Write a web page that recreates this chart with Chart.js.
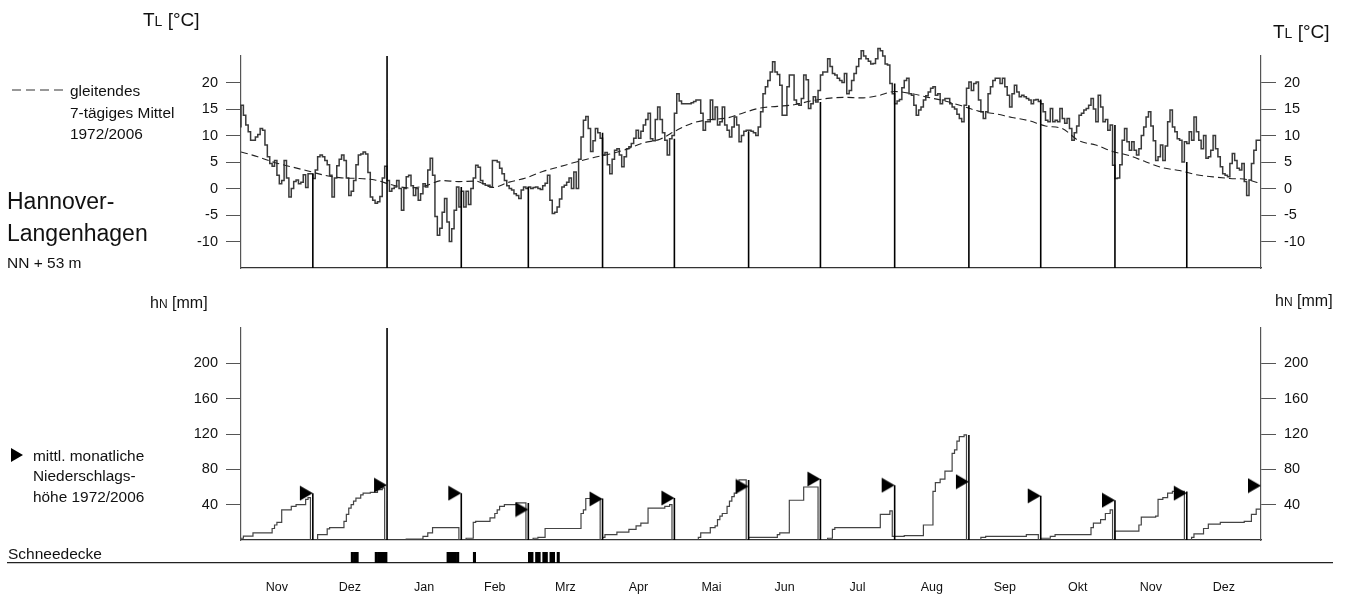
<!DOCTYPE html>
<html>
<head>
<meta charset="utf-8">
<script src="https://cdn.jsdelivr.net/npm/chart.js@4.4.1/dist/chart.umd.min.js"></script>
<style>
  body { margin: 0; background: #fff; }
  #wrap { position: relative; width: 1345px; height: 595px; overflow: hidden;
          font-family: "Liberation Sans", Arial, sans-serif; color: #111; }
  #wrap canvas { position: absolute; left: 0; }
  .lbl { position: absolute; white-space: nowrap; line-height: 1; }
  .small { font-size: 15.4px; }
  .flag { position: absolute; width: 0; height: 0; border-left: 12px solid #000;
          border-top: 7px solid transparent; border-bottom: 7px solid transparent; }
</style>
</head>
<body>
<div id="wrap">
  <canvas id="tempChart" width="1345" height="300" style="top:0"></canvas>
  <canvas id="rainChart" width="1345" height="290" style="top:280px"></canvas>
  <canvas id="snowChart" width="1345" height="55" style="top:540px"></canvas>
  <canvas id="dashKey" width="60" height="10" style="left:10px;top:85px"></canvas>

  <div class="lbl" style="left:143px;top:10px;font-size:19px">T<span style="font-size:14px">L</span> [°C]</div>
  <div class="lbl" style="left:1273px;top:22px;font-size:19px">T<span style="font-size:14px">L</span> [°C]</div>
  <div class="lbl small" style="left:70px;top:82.5px">gleitendes</div>
  <div class="lbl small" style="left:70px;top:104.5px">7-tägiges Mittel</div>
  <div class="lbl small" style="left:70px;top:125.5px">1972/2006</div>
  <div class="lbl" style="left:7px;top:190px;font-size:23px">Hannover-</div>
  <div class="lbl" style="left:7px;top:221.7px;font-size:23px">Langenhagen</div>
  <div class="lbl" style="left:7px;top:255px;font-size:15.5px">NN + 53 m</div>
  <div class="lbl" style="left:150px;top:295px;font-size:16px">h<span style="font-size:12px">N</span> [mm]</div>
  <div class="lbl" style="left:1275px;top:293px;font-size:16px">h<span style="font-size:12px">N</span> [mm]</div>
  <div class="flag" style="left:11px;top:448px"></div>
  <div class="lbl small" style="left:33px;top:447.5px">mittl. monatliche</div>
  <div class="lbl small" style="left:33px;top:468px">Niederschlags-</div>
  <div class="lbl small" style="left:33px;top:488.5px">höhe 1972/2006</div>
  <div class="lbl" style="left:8px;top:545.7px;font-size:15.5px">Schneedecke</div>
</div>

<script>
// months shown: Nov .. Dez of the following year
const monthNames = ["Nov", "Dez", "Jan", "Feb", "Mrz", "Apr", "Mai", "Jun", "Jul", "Aug", "Sep", "Okt", "Nov", "Dez"];
const monthDays = [30, 31, 31, 28, 31, 30, 31, 30, 31, 31, 30, 31, 30, 31];

// daily air temperature T_L [°C]
const tempDaily = [
  11.5, 15.7, 13.8, 12.0, 10.7, 9.1, 9.1, 9.7, 10.2, 11.3, 11.0, 8.2, 6.0, 4.7, 4.2, 5.3, 2.5, 0.9, 1.5, 5.3, 2.0, -1.6, 0.0, 1.3, 1.6, 0.9, 1.2, 2.6, 0.2, 2.8, // Nov
  2.8, 1.9, 3.5, 6.0, 6.3, 6.0, 5.3, 4.5, 2.5, -1.6, 2.0, 4.3, 5.5, 6.3, 5.3, 2.0, -1.3, -0.5, 1.5, 4.5, 6.3, 6.5, 6.9, 6.5, 3.0, -1.6, -2.2, -2.8, -2.5, -1.5, 2.0, // Dez
  4.2, 1.5, -0.5, 0.0, 0.3, 1.5, 0.0, -4.1, 0.0, 2.2, 2.5, 0.5, -1.3, 0.0, -2.2, -1.0, 0.9, 0.3, 3.5, 5.7, 2.5, -5.3, -8.8, -7.5, -4.5, -1.9, -6.3, -10.0, -7.6, -4.1, 0.3, // Jan
  -3.5, -0.5, -3.5, -0.5, -3.0, 0.0, 2.0, 4.4, 4.0, 1.5, 0.9, 0.6, 0.6, 0.3, 5.3, 5.3, 5.0, 3.8, 2.8, 1.5, 0.5, 0.0, -0.3, -1.0, -1.3, -1.9, -0.3, 0.3, // Feb
  0.0, 0.3, 0.0, 0.2, 0.3, 0.0, -0.2, 0.5, 1.0, 2.5, -2.2, -4.7, -4.5, -3.5, -2.0, 0.3, 0.6, 1.2, 2.0, 0.0, 3.1, 0.0, 5.5, 9.7, 12.9, 13.6, 11.3, 7.0, 9.0, 11.3, 10.5, // Mrz
  9.5, 6.3, 6.8, 4.5, 2.8, 5.5, 7.2, 7.5, 6.3, 4.1, 6.0, 7.5, 7.9, 8.5, 9.5, 11.0, 9.5, 10.8, 12.0, 13.0, 14.2, 9.4, 9.0, 13.0, 15.4, 13.0, 10.5, 9.1, 6.3, 9.4, // Apr
  10.0, 14.2, 17.9, 16.5, 16.0, 16.0, 16.0, 16.0, 16.2, 16.4, 16.7, 16.7, 14.2, 11.0, 12.6, 12.6, 16.7, 13.0, 15.4, 12.0, 12.6, 15.4, 12.0, 11.0, 9.7, 11.6, 13.5, 12.0, 8.8, 10.0, 10.8, // Mai
  11.0, 11.0, 10.8, 10.5, 10.0, 11.6, 14.5, 17.9, 19.2, 20.4, 22.0, 23.9, 22.0, 21.5, 19.5, 13.8, 13.8, 19.2, 21.4, 21.4, 16.7, 16.0, 15.7, 17.0, 21.4, 20.5, 15.1, 16.0, 17.3, 16.3, // Jun
  18.5, 21.4, 22.0, 22.0, 24.5, 23.0, 21.7, 21.4, 20.8, 20.4, 20.0, 21.7, 17.9, 18.5, 20.4, 21.7, 23.0, 24.5, 26.0, 25.0, 24.5, 24.0, 23.5, 23.6, 24.5, 26.4, 26.0, 25.0, 23.5, 23.3, 19.8, // Jul
  17.9, 16.0, 16.5, 16.8, 19.0, 20.4, 20.8, 17.9, 17.6, 15.7, 13.8, 14.8, 15.4, 16.7, 17.5, 18.2, 18.9, 19.2, 17.6, 17.9, 16.0, 16.7, 17.0, 17.0, 16.0, 15.4, 15.0, 14.0, 13.2, 12.6, 15.7, // Aug
  18.9, 20.1, 18.5, 19.8, 20.1, 16.7, 14.5, 13.2, 14.5, 17.9, 19.2, 20.4, 20.8, 20.8, 19.8, 20.8, 19.2, 17.6, 15.4, 17.9, 19.5, 18.2, 17.3, 17.6, 17.3, 17.0, 16.7, 16.0, 16.7, 16.8, // Sep
  16.4, 16.0, 14.5, 12.9, 12.6, 15.1, 12.6, 12.9, 12.6, 15.1, 13.2, 12.3, 13.2, 11.3, 9.1, 10.5, 11.8, 13.8, 14.2, 14.8, 15.1, 15.7, 17.0, 15.0, 12.6, 17.6, 15.4, 12.6, 13.0, 11.0, 12.0, // Okt
  4.4, 1.9, 2.0, 4.5, 9.1, 11.3, 8.8, 7.2, 8.8, 7.2, 6.3, 7.5, 10.0, 11.6, 13.5, 14.5, 11.8, 9.0, 5.3, 6.0, 8.2, 5.3, 8.0, 12.6, 14.8, 11.6, 10.7, 9.4, 9.1, 5.0, // Nov
  8.8, 8.5, 10.7, 9.1, 13.5, 10.7, 9.1, 7.5, 10.0, 5.7, 6.0, 7.2, 10.0, 7.5, 6.0, 4.1, 2.8, 2.5, 2.2, 4.7, 6.6, 5.3, 3.8, 3.5, 4.7, 1.3, -1.3, 1.6, 4.7, 7.2, 9.1 // Dez
];

// sliding 7-day mean 1972/2006, read at weekly steps (day index from 1 Nov)
const meanDays = [0, 7, 14, 21, 28, 35, 42, 49, 56, 63, 70, 77, 84, 91, 98, 105, 112, 119, 126, 133, 140, 147, 154, 161, 168, 175, 182, 189, 196, 203, 210,
  217, 224, 231, 238, 245, 252, 259, 266, 273, 280, 287, 294, 301, 308, 315, 322, 329, 336, 343, 350, 357, 364, 371, 378, 385, 392, 399, 406, 413, 420, 426];
const meanTemp = [6.9, 6.0, 4.9, 4.1, 3.3, 2.5, 2.0, 1.9, 1.6, 0.7, 0.1, 0.5, 1.5, 1.3, 1.4, 0.2, 1.2, 2.0, 3.2, 4.1, 5.0, 5.8, 6.5, 7.4, 8.6, 9.3, 11.0, 12.4, 13.0, 13.3, 14.3,
  15.2, 15.5, 15.8, 16.5, 17.0, 17.2, 17.1, 17.5, 18.3, 17.9, 17.2, 16.5, 15.6, 14.6, 14.1, 13.4, 12.8, 11.8, 11.3, 9.0, 8.2, 7.0, 6.2, 5.0, 3.9, 3.4, 2.6, 2.2, 1.9, 1.7, 0.9];

// precipitation events: day index and amount [mm]
const rainDays = [0, 2, 6, 14, 15, 16, 18, 22, 24, 28, 29,
  33, 37, 38, 44, 45, 46, 47, 48, 49, 51, 52, 55, 58, 60,
  70, 77, 79, 81,
  95, 98, 99, 105, 107, 108, 109, 111, 116,
  123, 125, 128, 143, 144, 145,
  152, 153, 158, 163, 166, 168, 171, 178, 180,
  192, 193, 197, 199, 200, 201, 202, 204, 205, 206, 207, 208, 209,
  213, 225, 226, 230, 236,
  246, 248, 249, 268, 272,
  273, 278, 286, 290, 291, 293, 295, 298, 299, 300, 301, 303,
  310, 312, 329,
  335, 339, 341, 356, 357, 360, 362, 364,
  366, 376, 377, 383, 384, 386, 388, 390,
  398, 399, 403, 405, 410, 420, 423, 425];
const rainMm = [2, 2.5, 3.5, 5, 4, 3, 14, 4, 2, 6, 2,
  6, 6.5, 1.5, 7, 8, 7, 4, 4, 3.5, 3.5, 2, 1, 3, 2,
  1, 3, 4, 6,
  2, 18, 1, 4, 5, 4, 4, 2, 2,
  2, 1, 10, 17, 4, 13,
  3, 3, 3, 3, 4, 3, 17, 2, 2,
  3, 5, 6, 2, 7, 4, 3, 8, 6, 5, 4, 8, 7,
  3, 3, 2, 37, 15,
  2, 10, 2, 15, 4,
  4, 1, 12, 38, 10, 4, 9, 20, 4, 10, 5, 2,
  3, 1, 2,
  2, 2, 2, 8, 5, 4, 7, 4,
  10, 7, 9, 1, 19, 2, 5, 2,
  3, 4, 6, 5, 2, 1, 8, 6];

// mean monthly precipitation 1972/2006 [mm]
const rainMonthlyMean = [53, 62, 53, 34.5, 46.5, 47.5, 60.7, 69, 62, 66, 50, 45, 53, 61.5];

// days with snow cover
const snowDays = [46, 47, 48, 56, 57, 58, 59, 60, 86, 87, 88, 89, 90, 97, 120, 121, 123, 124, 126, 127, 129, 130, 132];

const tempTicks = [-10, -5, 0, 5, 10, 15, 20];
const rainTicks = [40, 80, 120, 160, 200];

// ---- derived series ----
const monthEnds = [];
let acc = 0;
monthDays.forEach(n => { acc += n; monthEnds.push(acc); });
const nDays = acc;
const yearEnd = monthEnds[1];

const tempPts = tempDaily.map((v, d) => ({ x: d, y: v }));
tempPts.push({ x: nDays, y: tempDaily[nDays - 1] });
const meanPts = meanDays.map((d, i) => ({ x: d, y: meanTemp[i] }));
const tempSep = [];
monthEnds.slice(0, -1).forEach(b => {
  const top = b === yearEnd ? 25 : tempDaily[b - 1];
  tempSep.push({ x: b, y: -15 }, { x: b, y: top }, { x: b, y: null });
});

const rainByDay = new Array(nDays).fill(0);
rainDays.forEach((d, i) => { rainByDay[d] += rainMm[i]; });
const rainCum = [];
let sum = 0;
for (let d = 0; d < nDays; d++) {
  if (monthEnds.includes(d)) sum = 0;
  sum += rainByDay[d];
  rainCum.push(sum);
}
const rainPts = rainCum.map((v, d) => ({ x: d, y: v }));
rainPts.push({ x: nDays, y: rainCum[nDays - 1] });
const rainSep = [];
const flagPts = [];
monthEnds.forEach((b, i) => {
  flagPts.push({ x: b, y: rainMonthlyMean[i] });
  if (i === monthEnds.length - 1) return;
  const top = b === yearEnd ? 240 : Math.max(rainCum[b - 1], rainMonthlyMean[i]);
  rainSep.push({ x: b, y: 0 }, { x: b, y: top }, { x: b, y: null });
});

const snowPts = snowDays.map(d => ({ x: d + 0.5, y: 1 }));
const monthMid = monthEnds.map((e, i) => e - monthDays[i] / 2);

// ---- look ----
const FONT = '"Liberation Sans", Arial, sans-serif';
const plotLeft = 241, plotRight = 1261, pageWidth = 1345;
const pxPerDay = (plotRight - plotLeft) / nDays;

// right-pointing flag, tip at the image centre
function flagImage() {
  const c = document.createElement('canvas');
  c.width = 28; c.height = 16;
  const g = c.getContext('2d');
  g.fillStyle = '#000';
  g.beginPath();
  g.moveTo(1, 0.5); g.lineTo(1, 15.5); g.lineTo(14, 8);
  g.closePath(); g.fill();
  return c;
}

function yAxis(pos, min, max, ticks, width) {
  return {
    type: 'linear', position: pos, min: min, max: max,
    afterBuildTicks: s => { s.ticks = ticks.map(v => ({ value: v })); },
    afterFit: s => { s.width = width; s.paddingTop = 0; s.paddingBottom = 0; },
    ticks: { color: '#111', font: { family: FONT, size: 14.5 }, padding: 8 },
    grid: { drawOnChartArea: false, drawTicks: true, tickLength: 15, color: '#555', lineWidth: 1 },
    border: { display: true, color: '#555', width: 1.2 }
  };
}

function xAxis(height) {
  return {
    type: 'linear', min: 0, max: nDays,
    ticks: { display: false },
    grid: { display: false, drawTicks: false },
    border: { display: true, color: '#333', width: 1.3 },
    afterFit: s => { s.height = height; s.paddingLeft = 0; s.paddingRight = 0; }
  };
}

const common = {
  responsive: false,
  animation: false,
  events: [],
  plugins: { legend: { display: false }, tooltip: { enabled: false } }
};

// temperature panel (the July peaks rise above the axis top, so no clipping)
new Chart(document.getElementById('tempChart'), {
  type: 'line',
  data: {
    datasets: [
      { data: tempSep, borderColor: '#000', borderWidth: 1.6, pointRadius: 0 },
      { data: meanPts, borderColor: '#222', borderWidth: 1.1, borderDash: [7, 4], pointRadius: 0, cubicInterpolationMode: 'monotone' },
      { data: tempPts, borderColor: '#3a3a3a', borderWidth: 1.5, pointRadius: 0, stepped: 'after', clip: false }
    ]
  },
  options: Object.assign({}, common, {
    layout: { padding: { top: 56 } },
    scales: {
      x: xAxis(32),
      y: yAxis('left', -15, 25, tempTicks, plotLeft),
      yR: yAxis('right', -15, 25, tempTicks, pageWidth - plotRight)
    }
  })
});

// precipitation panel
new Chart(document.getElementById('rainChart'), {
  type: 'line',
  data: {
    datasets: [
      { data: flagPts, showLine: false, pointStyle: flagImage(), pointRadius: 7 },
      { data: rainSep, borderColor: '#000', borderWidth: 1.6, pointRadius: 0 },
      { data: rainPts, borderColor: '#444', borderWidth: 1.2, pointRadius: 0, stepped: 'after' }
    ]
  },
  options: Object.assign({}, common, {
    layout: { padding: { top: 48 } },
    scales: {
      x: xAxis(30),
      y: yAxis('left', 0, 240, rainTicks, plotLeft),
      yR: yAxis('right', 0, 240, rainTicks, pageWidth - plotRight)
    }
  })
});

// snow cover strip and month names
const snowLeft = 8, snowRight = 1332;
new Chart(document.getElementById('snowChart'), {
  type: 'bar',
  data: {
    datasets: [{ data: snowPts, backgroundColor: '#000', barPercentage: 1, categoryPercentage: 1 }]
  },
  options: Object.assign({}, common, {
    layout: { padding: { top: 12, left: snowLeft, right: pageWidth - snowRight } },
    scales: {
      x: {
        type: 'linear', offset: false,
        min: -(plotLeft - snowLeft) / pxPerDay,
        max: nDays + (snowRight - plotRight) / pxPerDay,
        afterBuildTicks: s => { s.ticks = monthMid.map(v => ({ value: v })); },
        afterFit: s => { s.height = 32; s.paddingLeft = 0; s.paddingRight = 0; },
        ticks: {
          autoSkip: false, maxRotation: 0, minRotation: 0, padding: 17,
          color: '#111', font: { family: FONT, size: 12.5 },
          callback: (v, i) => monthNames[i]
        },
        grid: { display: false, drawTicks: false },
        border: { display: true, color: '#222', width: 1.3 }
      },
      y: { display: false, min: 0, max: 1 }
    }
  })
});

// legend key for the dashed mean line
const dk = document.getElementById('dashKey').getContext('2d');
dk.strokeStyle = '#333';
dk.lineWidth = 1.1;
dk.setLineDash([9, 5]);
dk.beginPath();
dk.moveTo(2, 5);
dk.lineTo(56, 5);
dk.stroke();
</script>
</body>
</html>
